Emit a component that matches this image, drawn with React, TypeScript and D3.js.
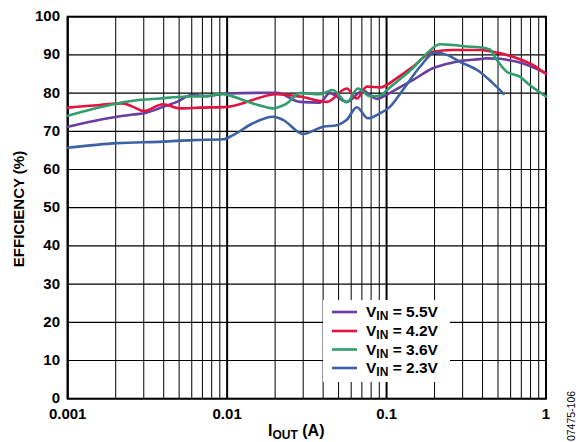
import React from "react";
import * as d3 from "d3";

const yTicks = [0, 10, 20, 30, 40, 50, 60, 70, 80, 90, 100];
const xTickLabels = ["0.001", "0.01", "0.1", "1"];
const xTickValues = [0.001, 0.01, 0.1, 1];

const seriesNames = ["5.5V", "4.2V", "3.6V", "2.3V"];
const seriesColors = ["#6a3ea1", "#e3123e", "#2f9e6b", "#3d62a3"];

const i55 = [0.001, 0.00204, 0.00257, 0.003, 0.00396, 0.00485, 0.006, 0.0075, 0.01, 0.0205, 0.0286, 0.0382, 0.044, 0.0563, 0.071, 0.0869, 0.1005, 0.121, 0.146, 0.195, 0.26, 0.3, 0.384, 0.42, 0.513, 0.62, 0.684, 1.0];
const e55 = [71.2, 73.8, 74.4, 74.7, 76.4, 77.7, 79.5, 79.2, 79.9, 80.1, 77.7, 77.5, 80.0, 77.7, 80.6, 78.5, 79.6, 81.5, 83.4, 86.5, 88.0, 88.5, 88.9, 89.1, 89.0, 88.4, 88.0, 85.2];

const i42 = [0.001, 0.00159, 0.00222, 0.00257, 0.003, 0.00396, 0.00506, 0.00675, 0.01, 0.0205, 0.0286, 0.0423, 0.0563, 0.0651, 0.0752, 0.0908, 0.116, 0.146, 0.195, 0.26, 0.384, 0.464, 0.62, 0.826, 1.0];
const e42 = [76.2, 76.9, 77.3, 76.4, 75.3, 77.1, 76.0, 76.2, 76.4, 79.7, 79.1, 77.7, 81.2, 78.6, 81.7, 81.5, 83.9, 86.9, 90.8, 91.3, 91.3, 90.8, 89.5, 87.4, 85.0];

const i36 = [0.001, 0.00204, 0.00257, 0.0038, 0.0056, 0.0075, 0.009, 0.0145, 0.0194, 0.0237, 0.0286, 0.0382, 0.046, 0.0563, 0.0661, 0.0786, 0.0908, 0.1005, 0.116, 0.146, 0.179, 0.216, 0.26, 0.319, 0.384, 0.444, 0.491, 0.567, 0.684, 0.79, 1.0];
const e36 = [74.1, 77.3, 78.0, 78.6, 79.1, 79.2, 79.8, 77.3, 76.0, 77.3, 80.0, 79.7, 80.8, 77.6, 81.2, 79.2, 79.3, 80.8, 83.0, 86.5, 90.4, 92.8, 92.6, 92.2, 92.0, 91.4, 88.7, 85.6, 84.3, 82.1, 79.1];

const i23 = [0.001, 0.00204, 0.00396, 0.0061, 0.0094, 0.0109, 0.0145, 0.0194, 0.0224, 0.0299, 0.04, 0.0488, 0.0563, 0.0651, 0.0763, 0.0908, 0.105, 0.1265, 0.162, 0.201, 0.239, 0.288, 0.384, 0.464, 0.543];
const e23 = [65.7, 66.9, 67.3, 67.7, 67.9, 69.0, 72.1, 73.8, 73.0, 69.3, 71.2, 71.6, 73.0, 76.3, 73.4, 74.7, 76.4, 80.8, 86.9, 90.6, 90.0, 88.2, 85.6, 82.6, 79.8];

const seriesI = [i55, i42, i36, i23];
const seriesE = [e55, e42, e36, e23];

export default function App() {
  const W = 586, H = 442;
  const left = 67.7, right = 546, top = 16.7, bottom = 398.7;
  const x = d3.scaleLog().domain([0.001, 1]).range([left, right]);
  const y = d3.scaleLinear().domain([0, 100]).range([bottom, top]);

  const minor: number[] = [];
  for (let dec = 0.001; dec < 1; dec *= 10) {
    for (let k = 2; k <= 9; k++) minor.push(dec * k);
  }

  const line = d3
    .line<[number, number]>()
    .x((d) => x(d[0]))
    .y((d) => y(d[1]))
    .curve(d3.curveMonotoneX);

  const font = "'Liberation Sans', Arial, sans-serif";
  const legX = 323, legY = 300, legW = 127, legH = 82;
  const rowY = [312, 331, 349.5, 368];

  return (
    <svg width={W} height={H} style={{ position: "absolute", left: 0, top: 0 }} fontFamily={font}>
      <rect x={0} y={0} width={W} height={H} fill="#fff" />
      {yTicks.map((t) => (
        <line key={"h" + t} x1={left} x2={right} y1={y(t)} y2={y(t)} stroke="#000" strokeWidth={1.2} />
      ))}
      {minor.map((m, i) => (
        <line key={"m" + i} x1={x(m)} x2={x(m)} y1={top} y2={bottom} stroke="#000" strokeWidth={1} />
      ))}
      {xTickValues.map((v) => (
        <line key={"v" + v} x1={x(v)} x2={x(v)} y1={top} y2={bottom} stroke="#000" strokeWidth={2} />
      ))}
      <rect x={left} y={top} width={right - left} height={bottom - top} fill="none" stroke="#000" strokeWidth={2} />

      {seriesI.map((arr, s) => (
        <path
          key={"s" + s}
          d={line(arr.map((v, j) => [v, seriesE[s][j]] as [number, number])) || ""}
          fill="none"
          stroke={seriesColors[s]}
          strokeWidth={2.6}
          strokeLinejoin="round"
          strokeLinecap="round"
        />
      ))}

      <rect x={legX} y={legY} width={legW} height={legH} fill="#fff" />
      {seriesNames.map((n, i) => (
        <g key={"l" + i}>
          <line x1={332} x2={357} y1={rowY[i]} y2={rowY[i]} stroke={seriesColors[i]} strokeWidth={2.6} />
          <text x={366} y={rowY[i] + 5} fontSize={15.5} fontWeight="bold" fill="#000">
            V
            <tspan fontSize={12} dy={3}>IN</tspan>
            <tspan dy={-3}>{" = " + n}</tspan>
          </text>
        </g>
      ))}

      {yTicks.map((t) => (
        <text key={"yt" + t} x={60} y={y(t) + 4.5} fontSize={15} fontWeight="bold" textAnchor="end" fill="#000">
          {t}
        </text>
      ))}
      {xTickValues.map((v, i) => (
        <text key={"xt" + v} x={x(v)} y={419} fontSize={15} fontWeight="bold" textAnchor="middle" fill="#000">
          {xTickLabels[i]}
        </text>
      ))}

      <text x={268} y={436} fontSize={16} fontWeight="bold" fill="#000">
        I<tspan fontSize={12} dy={3}>OUT</tspan>
        <tspan dy={-3}> (A)</tspan>
      </text>
      <text
        transform={`translate(24, ${209}) rotate(-90)`}
        textAnchor="middle"
        fontSize={15}
        fontWeight="bold"
        fill="#000"
      >
        EFFICIENCY (%)
      </text>
      <text transform={`translate(575, 416) rotate(-90)`} textAnchor="middle" fontSize={10.5} fill="#000">
        07475-106
      </text>
    </svg>
  );
}
